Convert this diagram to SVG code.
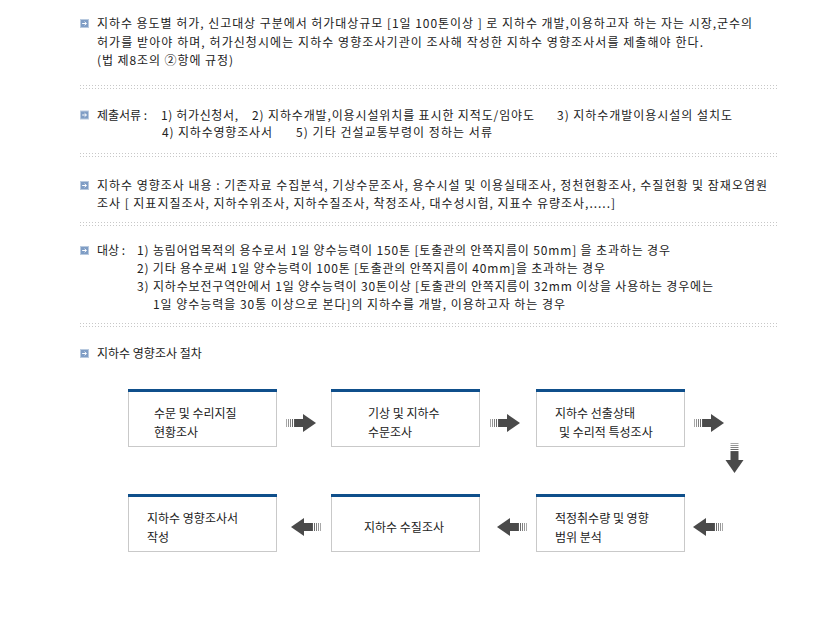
<svg xmlns="http://www.w3.org/2000/svg" width="833" height="625" viewBox="0 0 833 625">
<style>
.t{font-family:"Noto Sans CJK KR","Liberation Sans",sans-serif;font-size:12px;fill:#222}
.dot{stroke:#c8c8c8;stroke-width:1;stroke-dasharray:1 2;fill:none}
.box{fill:#fff;stroke:#c9c9c9;stroke-width:1}
.bar{fill:#0f4f8b}
</style>
<defs>
<symbol id="bul" viewBox="0 0 9 9" width="9" height="9" overflow="visible">
<rect x="0.5" y="0.5" width="8" height="8" fill="#7f9dc5" stroke="#b9cadf"/>
<path d="M2.2 4.5H6.4M4.6 2.8L6.4 4.5L4.6 6.2" stroke="#fff" stroke-width="1" fill="none"/>
</symbol>
<g id="arr">
<path d="M0.5 -4V4" stroke="#a8a8a8"/>
<path d="M2.5 -4V4" stroke="#959595"/>
<path d="M4.5 -4V4" stroke="#808080"/>
<path d="M6.5 -4V4" stroke="#6a6a6a"/>
<path d="M8.5 -4V4" stroke="#575757"/>
<rect x="9" y="-4" width="9" height="8" fill="#4a4a4a"/>
<polygon points="17,-9 30,0 17,9" fill="#4a4a4a"/>
</g>
</defs>

<g id="section1">
<use href="#bul" x="80" y="19"/>
<text class="t" x="97" y="28" textLength="655" lengthAdjust="spacing">지하수 용도별 허가, 신고대상 구분에서 허가대상규모 [1일 100톤이상 ] 로 지하수 개발,이용하고자 하는 자는 시장,군수의</text>
<text class="t" x="97" y="46.5" textLength="606" lengthAdjust="spacing">허가를 받아야 하며, 허가신청시에는 지하수 영향조사기관이 조사해 작성한 지하수 영향조사서를 제출해야 한다.</text>
<text class="t" x="97" y="65" textLength="136" lengthAdjust="spacing">(법 제8조의 ②항에 규정)</text>
</g>
<g id="sep1"><path class="dot" d="M80 85.5H778M80 88.5H778"/></g>

<g id="section2">
<use href="#bul" x="80" y="110.5"/>
<text class="t" x="97" y="119.5">제출서류 :</text>
<text class="t" x="161" y="119.5" textLength="77" lengthAdjust="spacing">1) 허가신청서,</text>
<text class="t" x="252" y="119.5" textLength="282" lengthAdjust="spacing">2) 지하수개발,이용시설위치를 표시한 지적도/임야도</text>
<text class="t" x="557" y="119.5" textLength="175" lengthAdjust="spacing">3) 지하수개발이용시설의 설치도</text>
<text class="t" x="162" y="136.5" textLength="110" lengthAdjust="spacing">4) 지하수영향조사서</text>
<text class="t" x="296" y="136.5" textLength="196" lengthAdjust="spacing">5) 기타 건설교통부령이 정하는 서류</text>
</g>
<g id="sep2"><path class="dot" d="M80 153.5H778M80 156.5H778"/></g>

<g id="section3">
<use href="#bul" x="80" y="181"/>
<text class="t" x="97" y="190" textLength="670" lengthAdjust="spacing">지하수 영향조사 내용 : 기존자료 수집분석, 기상수문조사, 용수시설 및 이용실태조사, 정천현황조사, 수질현황 및 잠재오염원</text>
<text class="t" x="97" y="208" textLength="518" lengthAdjust="spacing">조사 [ 지표지질조사, 지하수위조사, 지하수질조사, 착정조사, 대수성시험, 지표수 유량조사,.....]</text>
</g>
<g id="sep3"><path class="dot" d="M80 222.5H778M80 225.5H778"/></g>

<g id="section4">
<use href="#bul" x="80" y="246"/>
<text class="t" x="97" y="255">대상 :</text>
<text class="t" x="137" y="255" textLength="533" lengthAdjust="spacing">1) 농림어업목적의 용수로서 1일 양수능력이 150톤 [토출관의 안쪽지름이 50mm] 을 초과하는 경우</text>
<text class="t" x="137" y="273" textLength="468" lengthAdjust="spacing">2) 기타 용수로써 1일 양수능력이 100톤 [토출관의 안쪽지름이 40mm]을 초과하는 경우</text>
<text class="t" x="137" y="291" textLength="576" lengthAdjust="spacing">3) 지하수보전구역안에서 1일 양수능력이 30톤이상 [토출관의 안쪽지름이 32mm 이상을 사용하는 경우에는</text>
<text class="t" x="153" y="309" textLength="412" lengthAdjust="spacing">1일 양수능력을 30통 이상으로 본다]의 지하수를 개발, 이용하고자 하는 경우</text>
</g>
<g id="sep4"><path class="dot" d="M80 323.5H778M80 326.5H778"/></g>

<g id="section5">
<use href="#bul" x="80" y="349"/>
<text class="t" x="97" y="358">지하수 영향조사 절차</text>
</g>

<g id="node1">
<rect class="box" x="128.5" y="389.5" width="148" height="57"/>
<rect class="bar" x="128" y="389" width="149" height="3"/>
<text class="t" x="154" y="417.5">수문 및 수리지질</text>
<text class="t" x="154" y="436.5">현황조사</text>
</g>
<g id="node2">
<rect class="box" x="331.5" y="389.5" width="148" height="57"/>
<rect class="bar" x="331" y="389" width="149" height="3"/>
<text class="t" x="368" y="417.5">기상 및 지하수</text>
<text class="t" x="368" y="436.5">수문조사</text>
</g>
<g id="node3">
<rect class="box" x="536.5" y="389.5" width="148" height="57"/>
<rect class="bar" x="536" y="389" width="149" height="3"/>
<text class="t" x="555" y="417.5">지하수 선출상태</text>
<text class="t" x="559" y="436.5">및 수리적 특성조사</text>
</g>
<g id="node4">
<rect class="box" x="128.5" y="494.5" width="148" height="57"/>
<rect class="bar" x="128" y="494" width="149" height="3"/>
<text class="t" x="147" y="522.5">지하수 영향조사서</text>
<text class="t" x="147" y="541.5">작성</text>
</g>
<g id="node5">
<rect class="box" x="331.5" y="494.5" width="148" height="57"/>
<rect class="bar" x="331" y="494" width="149" height="3"/>
<text class="t" x="364" y="532">지하수 수질조사</text>
</g>
<g id="node6">
<rect class="box" x="536.5" y="494.5" width="148" height="57"/>
<rect class="bar" x="536" y="494" width="149" height="3"/>
<text class="t" x="555" y="522.5">적정취수량 및 영향</text>
<text class="t" x="555" y="541.5">범위 분석</text>
</g>

<g id="connectors">
<use href="#arr" transform="translate(286,423)"/>
<use href="#arr" transform="translate(490,423)"/>
<use href="#arr" transform="translate(694,423)"/>
<use href="#arr" transform="translate(734.5,443) rotate(90)"/>
<use href="#arr" transform="translate(723,527) scale(-1,1)"/>
<use href="#arr" transform="translate(527,527) scale(-1,1)"/>
<use href="#arr" transform="translate(321,527) scale(-1,1)"/>
</g>
</svg>
